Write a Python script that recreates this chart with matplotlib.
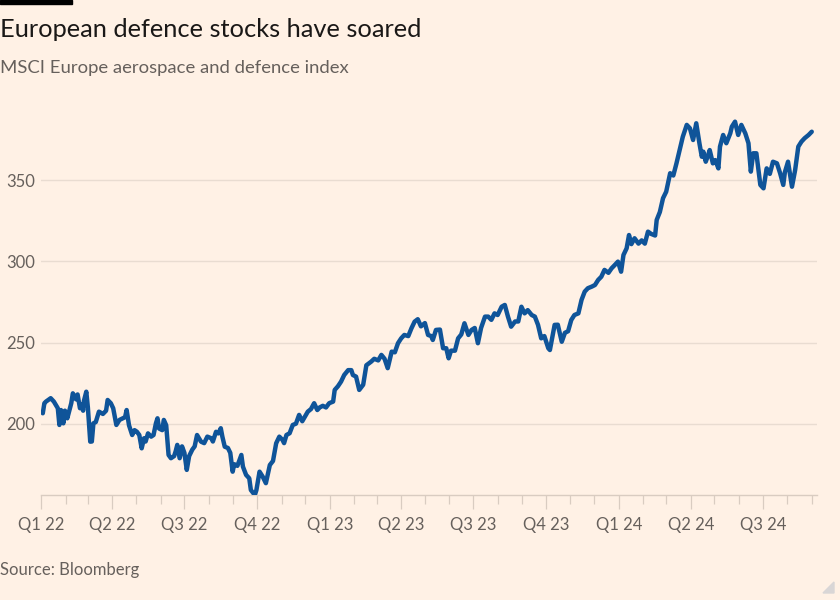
import numpy as np
import pandas as pd
import matplotlib
matplotlib.use("Agg")
import matplotlib.pyplot as plt
import matplotlib.dates as mdates
from matplotlib.patches import Polygon, Rectangle

# MSCI Europe aerospace & defence index
dates = [
    "2022-01-03", "2022-01-05", "2022-01-07", "2022-01-13", "2022-01-17", "2022-01-22",
    "2022-01-24", "2022-01-26", "2022-01-29", "2022-01-31", "2022-02-03", "2022-02-08",
    "2022-02-10", "2022-02-14", "2022-02-16", "2022-02-19", "2022-02-21", "2022-02-23",
    "2022-02-24", "2022-02-27", "2022-03-01", "2022-03-04", "2022-03-06", "2022-03-08",
    "2022-03-11", "2022-03-15", "2022-03-20", "2022-03-24", "2022-03-26", "2022-03-30",
    "2022-04-02", "2022-04-06", "2022-04-10", "2022-04-14", "2022-04-17", "2022-04-19",
    "2022-04-22", "2022-04-26", "2022-04-29", "2022-05-02", "2022-05-05", "2022-05-08",
    "2022-05-11", "2022-05-13", "2022-05-16", "2022-05-20", "2022-05-23", "2022-05-26",
    "2022-05-28", "2022-05-30", "2022-06-03", "2022-06-05", "2022-06-08", "2022-06-11",
    "2022-06-14", "2022-06-18", "2022-06-20", "2022-06-22", "2022-06-25", "2022-06-28",
    "2022-07-01", "2022-07-04", "2022-07-07", "2022-07-11", "2022-07-14", "2022-07-17",
    "2022-07-22", "2022-07-26", "2022-07-30", "2022-08-04", "2022-08-06", "2022-08-10",
    "2022-08-13", "2022-08-16", "2022-08-18", "2022-08-21", "2022-08-25", "2022-08-28",
    "2022-08-31", "2022-09-02", "2022-09-06", "2022-09-11", "2022-09-13", "2022-09-17",
    "2022-09-21", "2022-09-23", "2022-09-28", "2022-09-30", "2022-10-04", "2022-10-08",
    "2022-10-12", "2022-10-17", "2022-10-21", "2022-10-25", "2022-10-29", "2022-11-02",
    "2022-11-04", "2022-11-07", "2022-11-11", "2022-11-15", "2022-11-19", "2022-11-23",
    "2022-11-27", "2022-11-30", "2022-12-04", "2022-12-08", "2022-12-12", "2022-12-16",
    "2022-12-19", "2022-12-23", "2022-12-27", "2022-12-31",
    "2023-01-05", "2023-01-07", "2023-01-11", "2023-01-15", "2023-01-19", "2023-01-24",
    "2023-01-28", "2023-01-30", "2023-02-03", "2023-02-07", "2023-02-12", "2023-02-16",
    "2023-02-22", "2023-02-26", "2023-03-03", "2023-03-07", "2023-03-11", "2023-03-15",
    "2023-03-20", "2023-03-24", "2023-03-28", "2023-04-01", "2023-04-05", "2023-04-10",
    "2023-04-14", "2023-04-18", "2023-04-22", "2023-04-26", "2023-05-01", "2023-05-05",
    "2023-05-09", "2023-05-11", "2023-05-15", "2023-05-20", "2023-05-24", "2023-05-28",
    "2023-05-31", "2023-06-03", "2023-06-08", "2023-06-12", "2023-06-16", "2023-06-20",
    "2023-06-25", "2023-06-29", "2023-07-03", "2023-07-07", "2023-07-11", "2023-07-16",
    "2023-07-20", "2023-07-24", "2023-07-28", "2023-08-01", "2023-08-06", "2023-08-10",
    "2023-08-14", "2023-08-18", "2023-08-23", "2023-08-27", "2023-08-31", "2023-09-04",
    "2023-09-08", "2023-09-13", "2023-09-17", "2023-09-21", "2023-09-25", "2023-09-29",
    "2023-10-04", "2023-10-06", "2023-10-12", "2023-10-16", "2023-10-21", "2023-10-25",
    "2023-10-29", "2023-11-02", "2023-11-06", "2023-11-11", "2023-11-15", "2023-11-19",
    "2023-11-23", "2023-11-28", "2023-12-02", "2023-12-06", "2023-12-10", "2023-12-14",
    "2023-12-19", "2023-12-23", "2023-12-27", "2023-12-31",
    "2024-01-04", "2024-01-07", "2024-01-11", "2024-01-14", "2024-01-17", "2024-01-21",
    "2024-01-26", "2024-01-30", "2024-02-03", "2024-02-07", "2024-02-11", "2024-02-16",
    "2024-02-18", "2024-02-22", "2024-02-26", "2024-03-01", "2024-03-06", "2024-03-10",
    "2024-03-14", "2024-03-18", "2024-03-22", "2024-03-27", "2024-03-31", "2024-04-04",
    "2024-04-08", "2024-04-12", "2024-04-15", "2024-04-17", "2024-04-20", "2024-04-23",
    "2024-04-25", "2024-04-29", "2024-05-02", "2024-05-06", "2024-05-08", "2024-05-12",
    "2024-05-16", "2024-05-21", "2024-05-23", "2024-05-27", "2024-05-31", "2024-06-04",
    "2024-06-09", "2024-06-13", "2024-06-16", "2024-06-19", "2024-06-23", "2024-06-28",
    "2024-07-02", "2024-07-06", "2024-07-10", "2024-07-14", "2024-07-19", "2024-07-23",
    "2024-07-27", "2024-07-29", "2024-08-02", "2024-08-07", "2024-08-11", "2024-08-15",
    "2024-08-19", "2024-08-23", "2024-08-28", "2024-09-01",
]
values = [
    206.4, 212.6, 213.6, 215.7, 213.6, 209.5,
    199.2, 208.4, 200.2, 208.0, 203.3, 212.6,
    218.7, 215.0, 218.0, 209.5, 212.0, 208.0,
    214.0, 219.7, 210.0, 188.9, 189.0, 200.2,
    201.0, 207.4, 206.0, 208.0, 214.6, 212.6,
    209.5, 199.2, 202.3, 203.3, 204.0, 208.4,
    199.0, 193.0, 196.0, 195.0, 193.0, 184.8,
    191.0, 189.0, 194.0, 192.0, 193.0, 200.2,
    203.3, 197.0, 196.0, 202.3, 199.0, 180.7,
    178.7, 180.0, 183.0, 186.9, 178.7, 186.0,
    182.0, 171.5, 180.0, 184.0, 186.0, 193.0,
    188.9, 188.0, 192.0, 191.0, 189.0, 195.0,
    194.0, 197.2, 192.0, 185.8, 185.0, 182.0,
    170.4, 175.0, 174.0, 180.7, 173.5, 168.4,
    166.3, 159.1, 156.0, 159.0, 170.4, 167.3,
    163.3, 174.5, 177.0, 187.9, 192.0, 190.0,
    188.0, 193.0, 194.1, 199.2, 200.0, 205.4,
    201.5, 204.0, 207.4, 209.0, 212.6, 208.4,
    210.0, 211.0, 210.0, 212.6,
    213.6, 220.8, 223.0, 225.9, 230.0, 233.0,
    233.0, 230.0, 229.0, 220.8, 224.0, 236.0,
    238.2, 240.0, 239.0, 242.4, 240.0, 234.2,
    244.4, 244.0, 249.6, 252.6, 254.7, 254.0,
    258.8, 262.9, 264.4, 260.0, 262.0, 254.7,
    254.0, 251.6, 257.8, 258.0, 246.5, 246.5,
    240.3, 245.0, 245.0, 252.6, 255.0, 261.9,
    254.7, 257.8, 259.0, 249.6, 259.0, 266.0,
    266.0, 264.0, 268.0, 267.0, 272.1, 273.2,
    266.0, 259.8, 263.0, 263.0, 272.1, 268.0,
    270.0, 267.0, 266.0, 260.9, 252.6, 254.0,
    246.5, 245.4, 260.9, 261.0, 250.5, 256.0,
    257.0, 263.9, 267.0, 268.0, 276.3, 281.4,
    283.5, 284.5, 285.5, 288.6, 290.6, 294.8,
    293.0, 295.8, 297.8, 299.9,
    293.7, 304.0, 308.1, 316.3, 310.7, 314.3,
    311.0, 313.0, 311.0, 318.4, 317.0, 316.0,
    325.6, 330.5, 339.0, 343.0, 354.4, 353.0,
    360.5, 368.7, 376.9, 384.2, 382.1, 374.9,
    385.2, 372.9, 364.6, 367.7, 361.5, 365.6,
    368.7, 360.5, 362.5, 357.4, 370.8, 378.0,
    372.9, 379.0, 383.1, 386.2, 378.0, 384.2,
    379.0, 372.9, 355.4, 366.7, 366.7, 347.2,
    345.1, 357.4, 354.0, 361.5, 360.5, 354.4,
    347.2, 355.0, 361.5, 346.1, 356.4, 370.8,
    373.9, 376.0, 378.0, 380.0,
]

quarter_starts = ["2022-01-01", "2022-04-01", "2022-07-01", "2022-10-01", "2023-01-01",
                  "2023-04-01", "2023-07-01", "2023-10-01", "2024-01-01", "2024-04-01",
                  "2024-07-01"]
quarter_labels = ["Q1 22", "Q2 22", "Q3 22", "Q4 22", "Q1 23", "Q2 23", "Q3 23",
                  "Q4 23", "Q1 24", "Q2 24", "Q3 24"]
yticks = [200, 250, 300, 350]

bg = "#fff1e5"
line_col = "#0f5499"
grid_col = "#e9dcd1"
tick_col = "#d9ccc1"
text_col = "#66605c"

plt.rcParams['font.family'] = ['Lato', 'DejaVu Sans']

fig = plt.figure(figsize=(8.4, 6), dpi=100, facecolor=bg)
ax = fig.add_axes([41 / 840, 105.3 / 600, 775.7 / 840, 379.2 / 600])
ax.set_facecolor(bg)

x = pd.to_datetime(dates)
ax.plot(x, values, color=line_col, lw=3.2, solid_joinstyle='round', solid_capstyle='round', zorder=3)

ax.set_xlim(pd.Timestamp("2021-12-31 18:00"), pd.Timestamp("2024-09-07 06:00"))
ax.set_ylim(156.2, 390)

ax.set_xticks(pd.to_datetime(quarter_starts))
ax.set_xticklabels(quarter_labels)
ax.xaxis.set_minor_locator(mdates.MonthLocator())
ax.tick_params(axis='x', which='major', length=10, width=0.9, color=tick_col,
               labelsize=12, labelcolor=text_col, pad=6)
ax.tick_params(axis='x', which='minor', length=6.5, width=0.9, color=tick_col)

ax.set_yticks(yticks)
ax.tick_params(axis='y', length=0, labelsize=12, labelcolor=text_col, pad=4.5)
ax.grid(axis='y', color=grid_col, lw=1)
ax.set_axisbelow(True)

for s in ['top', 'right', 'left']:
    ax.spines[s].set_visible(False)
ax.spines['bottom'].set_color(tick_col)
ax.spines['bottom'].set_linewidth(1)

# header / footer
fig.patches.append(Rectangle((0, 1 - 3.5 / 600), 72 / 840, 3.5 / 600, transform=fig.transFigure,
                             color="black", zorder=5))
fig.text(0, 1 - 37 / 600, "European defence stocks have soared", fontsize=18.3,
         color="#1a1817", va='baseline', ha='left')
fig.text(0, 1 - 73 / 600, "MSCI Europe aerospace and defence index", fontsize=13.3,
         color=text_col, va='baseline', ha='left')
fig.text(0, 1 - 575 / 600, "Source: Bloomberg", fontsize=12,
         color=text_col, va='baseline', ha='left')
fig.patches.append(Polygon([(834 / 840, 7 / 600), (834 / 840, 18 / 600), (823 / 840, 7 / 600)],
                           closed=True, transform=fig.transFigure, color="#d9d6d6", zorder=5))

fig.savefig("out.png", dpi=100, facecolor=bg)
